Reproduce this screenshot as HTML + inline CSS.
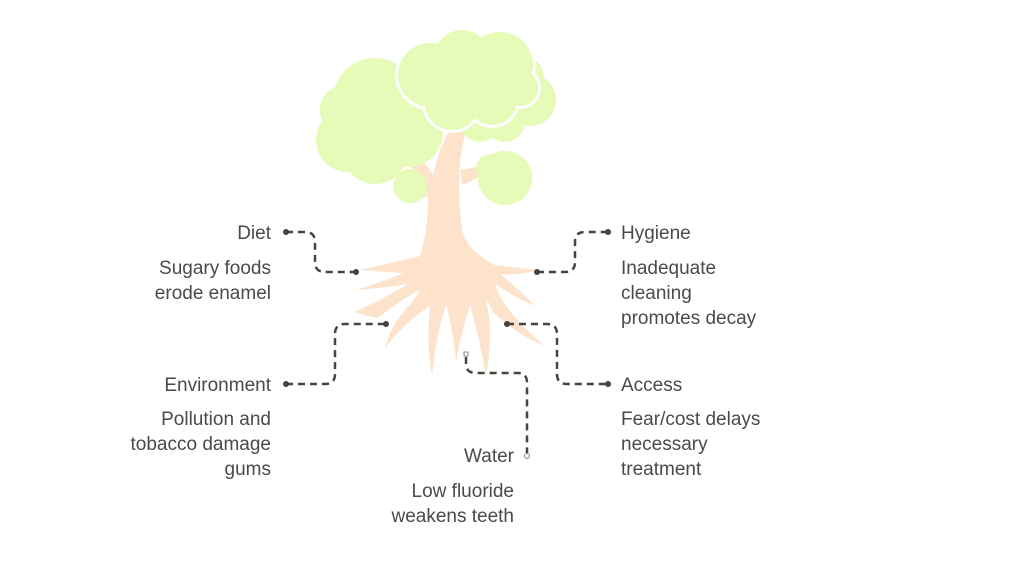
<!DOCTYPE html>
<html><head><style>
html,body{margin:0;padding:0;background:#fff;}
svg{display:block;}
text{font-family:"Liberation Sans",sans-serif;font-size:19px;fill:#4a4a4a;}
</style></head><body>
<svg width="1024" height="576" viewBox="0 0 1024 576">
<!-- trunk & roots -->
<g fill="#fde3cc">
<path d="M405,150 Q425,160 433,175 L440,150 L452,125 L466,128 L460,160 Q458,200 462,230 Q468,252 495,265 Q520,268 540,270 Q515,276 500,274 Q520,290 535,306 Q512,296 495,284 Q502,310 545,346 Q515,334 493,312 Q488,300 486,300 Q494,335 486,376 Q480,340 470,305 Q462,330 456,362 Q453,330 446,305 Q436,335 432,376 Q426,340 430,306 Q405,322 385,348 Q390,328 405,310 Q415,300 420,290 Q400,300 378,318 Q366,316 354,312 Q382,300 408,284 Q382,288 356,290 Q382,282 404,273 Q382,272 360,270 Q395,262 420,256 Q428,230 428,200 Q425,180 412,168 Z"/>
<path d="M460,170 Q478,168 495,158 L498,165 Q480,178 462,185 Z"/>
<path d="M420,200 Q410,192 405,182 L412,180 Q420,190 428,195 Z"/>
</g>
<!-- left & right back canopy (no outline) -->
<g fill="#e6fbb8">
<circle cx="375" cy="100" r="42"/>
<circle cx="348" cy="140" r="32"/>
<circle cx="375" cy="152" r="32"/>
<circle cx="408" cy="132" r="35"/>
<circle cx="345" cy="110" r="25"/>
<circle cx="530" cy="100" r="26"/>
<circle cx="520" cy="78" r="24"/>
<circle cx="505" cy="122" r="20"/>
<circle cx="480" cy="122" r="20"/>
<circle cx="410" cy="186" r="17"/>
<circle cx="505" cy="178" r="27"/>
<circle cx="490" cy="168" r="14"/>
</g>
<!-- top cloud with white outline -->
<g fill="#fff">
<circle cx="430" cy="75" r="35"/>
<circle cx="462" cy="58" r="31"/>
<circle cx="500" cy="65" r="36"/>
<circle cx="452" cy="103" r="30"/>
<circle cx="492" cy="100" r="28"/>
<circle cx="520" cy="88" r="21"/>
</g>
<g fill="#e6fbb8">
<circle cx="430" cy="75" r="32"/>
<circle cx="462" cy="58" r="28"/>
<circle cx="500" cy="65" r="33"/>
<circle cx="452" cy="103" r="27"/>
<circle cx="492" cy="100" r="25"/>
<circle cx="520" cy="88" r="18"/>
</g>
<!-- connectors -->
<g fill="none" stroke="#444" stroke-width="2.5" stroke-dasharray="7,5">
<path d="M286,232 H305 Q315,232 315,242 V262 Q315,272 325,272 H356"/>
<path d="M537,272 H565 Q575,272 575,262 V242 Q575,232 585,232 H608"/>
<path d="M286,384 H325 Q335,384 335,374 V334 Q335,324 345,324 H386"/>
<path d="M507,324 H547 Q557,324 557,334 V374 Q557,384 567,384 H608"/>
<path d="M466,357 V364 Q466,373 476,373 H518 Q527,373 527,383 V453"/>
</g>
<g fill="#444">
<circle cx="286" cy="232" r="3"/><circle cx="356" cy="272" r="3"/>
<circle cx="537" cy="272" r="3"/><circle cx="608" cy="232" r="3"/>
<circle cx="286" cy="384" r="3"/><circle cx="386" cy="324" r="3"/>
<circle cx="507" cy="324" r="3"/><circle cx="608" cy="384" r="3"/>
</g>
<rect x="464" y="352" width="4" height="4" fill="#fff" stroke="#888" stroke-width="1"/>
<circle cx="527" cy="456" r="2.5" fill="#fff" stroke="#888" stroke-width="1"/>
<!-- labels -->
<g text-anchor="end">
<text x="271" y="239">Diet</text>
<text x="271" y="274">Sugary foods</text>
<text x="271" y="299">erode enamel</text>
<text x="271" y="391">Environment</text>
<text x="271" y="425">Pollution and</text>
<text x="271" y="450">tobacco damage</text>
<text x="271" y="475">gums</text>
<text x="514" y="462">Water</text>
<text x="514" y="497">Low fluoride</text>
<text x="514" y="522">weakens teeth</text>
</g>
<text x="621" y="239">Hygiene</text>
<text x="621" y="274">Inadequate</text>
<text x="621" y="299">cleaning</text>
<text x="621" y="324">promotes decay</text>
<text x="621" y="391">Access</text>
<text x="621" y="425">Fear/cost delays</text>
<text x="621" y="450">necessary</text>
<text x="621" y="475">treatment</text>
</svg>
</body></html>
